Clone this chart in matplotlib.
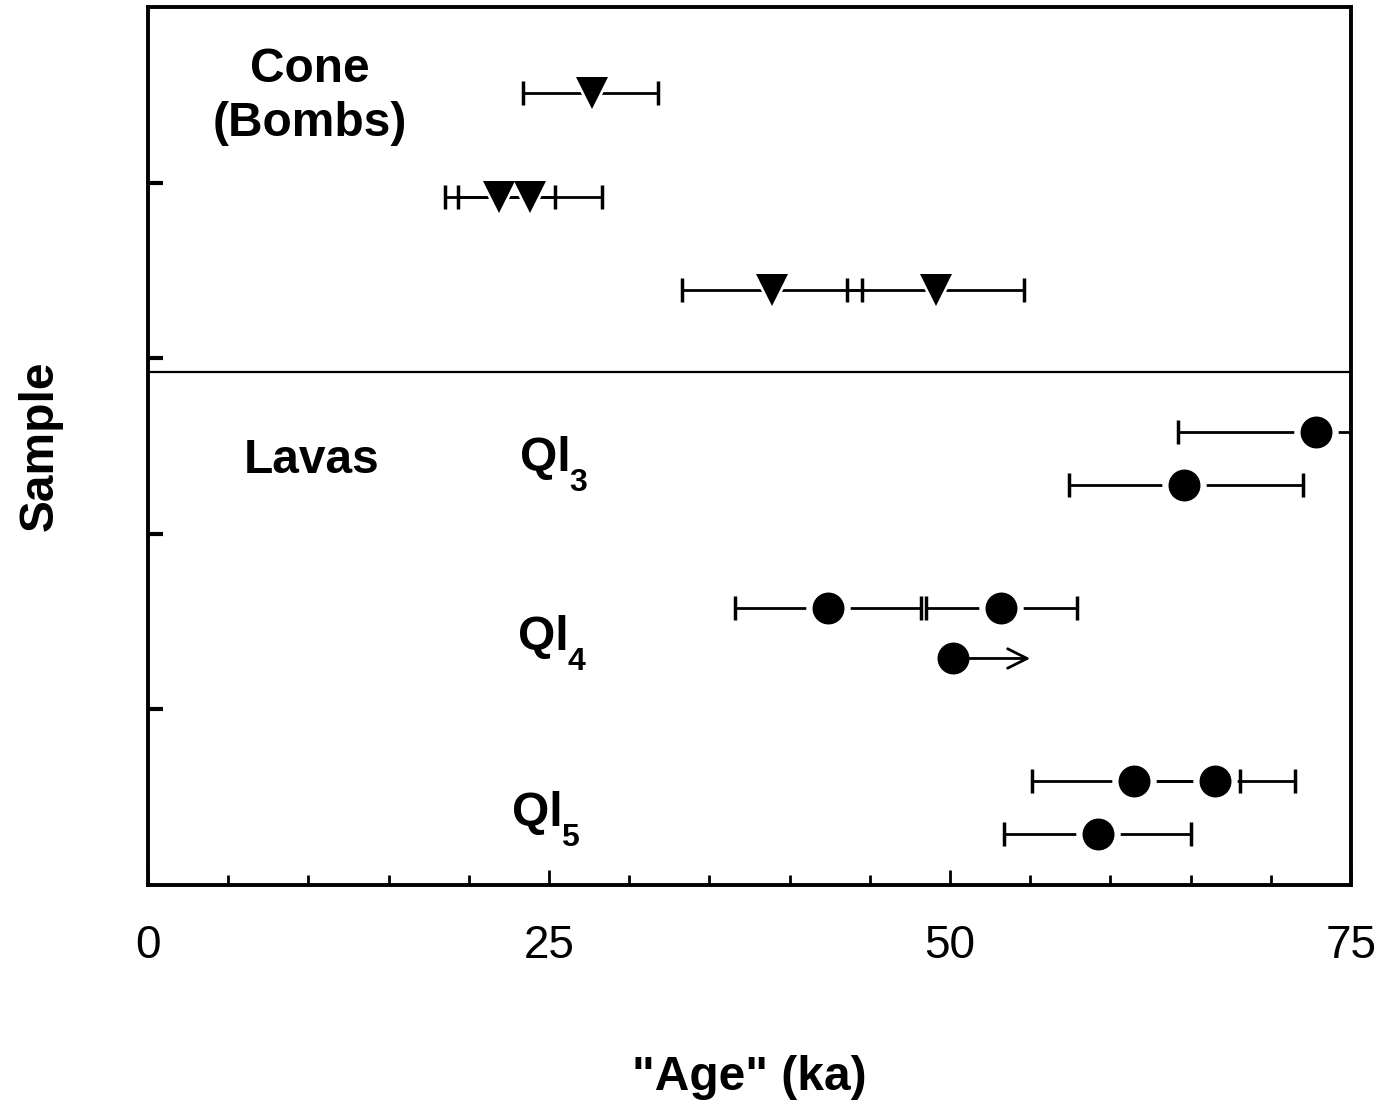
import matplotlib
matplotlib.use('Agg')
import matplotlib.pyplot as plt

plt.rcParams['font.family'] = ['Liberation Sans', 'DejaVu Sans']

# cone (bombs) samples: value, lower end, upper end, row
cone_age = [27.7, 21.9, 23.8, 38.9, 49.1]
cone_lo = [23.4, 18.5, 19.3, 33.3, 43.6]
cone_hi = [31.8, 25.4, 28.3, 44.5, 54.6]
cone_row = [4.51, 3.92, 3.92, 3.39, 3.39]

# lava samples
lava_age = [72.8, 64.6, 42.4, 53.2, 61.5, 66.5, 59.2]
lava_lo = [64.2, 57.4, 36.6, 48.5, 55.1, 61.5, 53.4]
lava_hi = [75.0, 72.0, 48.2, 57.9, 68.1, 71.5, 65.0]
lava_row = [2.58, 2.28, 1.58, 1.58, 0.59, 0.59, 0.29]

# minimum age (arrow)
min_age = 50.2
min_to = 55.0
min_row = 1.29

divider = 2.92

fig = plt.figure(figsize=(13.87, 11.06), dpi=100)
ax = fig.add_axes([0.1067, 0.1998, 0.8673, 0.7939])

def draw(ages, lo, hi, rows, mk, ms):
    xerr = [[a - l for a, l in zip(ages, lo)], [h - a for a, h in zip(ages, hi)]]
    ax.errorbar(ages, rows, xerr=xerr, fmt='none', ecolor='black', elinewidth=2,
                capsize=8.3, capthick=2.5, zorder=2)
    ax.plot(ages, rows, mk, color='white', markersize=ms + 9, markeredgewidth=0, zorder=3)
    ax.plot(ages, rows, mk, color='black', markersize=ms, markeredgewidth=0, zorder=4)

draw(cone_age, cone_lo, cone_hi, cone_row, 'v', 23)
draw(lava_age, lava_lo, lava_hi, lava_row, 'o', 23)

ax.annotate('', xy=(min_to, min_row), xytext=(min_age, min_row),
            arrowprops=dict(arrowstyle='->', color='black', lw=2, mutation_scale=35,
                            shrinkA=0, shrinkB=0), zorder=2)
ax.plot([min_age], [min_row], 'o', color='black', markersize=23, markeredgewidth=0, zorder=4)

ax.axhline(divider, color='black', lw=1.6, zorder=1)

bold = dict(fontsize=34.5, fontweight='bold', ha='center', va='center')
ax.text(10.1, 4.49, 'Cone\n(Bombs)', linespacing=1.25, **bold)
ax.text(10.2, 2.42, 'Lavas', **bold)
for lx, ly, sub in [(23.2, 2.43, '3'), (23.1, 1.41, '4'), (22.7, 0.41, '5')]:
    ax.text(lx, ly, 'Ql', fontsize=34.5, fontweight='bold', ha='left', va='center')
    ax.text(lx + 3.05, ly - 0.14, sub, fontsize=23, fontweight='bold', ha='left', va='center')

ax.set_xlim(0, 75)
ax.set_ylim(0, 5)
ax.set_xticks([0, 25, 50, 75])
ax.set_xticks(range(0, 76, 5), minor=True)
ax.set_yticks([1, 2, 3, 4])
ax.set_yticklabels([])
ax.tick_params(axis='x', which='major', direction='in', length=11, width=2,
               labelsize=33, pad=28)
ax.tick_params(axis='x', which='minor', direction='in', length=7, width=2)
ax.tick_params(axis='y', direction='in', length=11, width=3)
for s in ax.spines.values():
    s.set_linewidth(2.8)

ax.set_xlabel('"Age" (ka)', fontsize=34.5, fontweight='bold', labelpad=63)
ax.set_ylabel('Sample', fontsize=34.5, fontweight='bold', labelpad=58)

fig.savefig('out.png', dpi=100)
